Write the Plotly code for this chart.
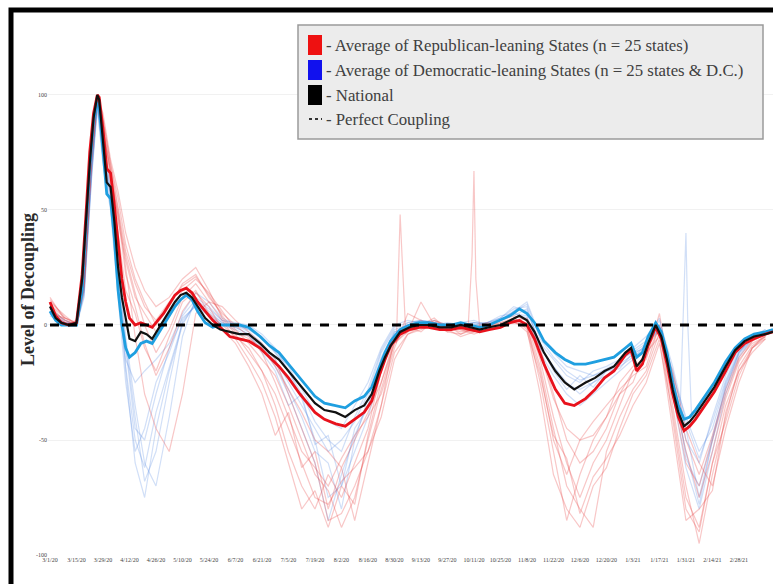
import pandas as pd
import plotly.graph_objects as go

# ---------------- data ----------------
START = "2020-03-01"

AVG_DAYS = [0,3,6,10,14,17,19,21,23,25,26,28,30,32,34,36,38,40,42,45,48,51,54,57,60,63,66,69,72,75,78,
            82,86,90,95,100,105,111,116,121,126,132,136,140,145,151,156,161,166,170,174,177,180,185,190,
            195,200,206,212,217,222,227,232,238,243,248,252,256,261,267,272,277,283,288,293,298,304,307,
            310,313,316,320,323,326,329,332,335,338,341,346,351,357,362,367,372,378,382]

NATIONAL = [8,3,1,0,1,20,45,70,90,100,98,80,62,60,45,25,12,3,-6,-7,-3,-4,-6,-2,2,6,10,13,14,12,8,
            3,0,-2,-3,-4,-4,-8,-12,-15,-20,-26,-30,-34,-37,-38,-40,-37,-35,-30,-20,-14,-9,-3,-1,
            0,0,-1,-1,0,-1,-2,-1,0,2,4,2,-3,-12,-20,-25,-28,-25,-23,-20,-18,-12,-10,
            -18,-15,-8,0,-5,-15,-28,-38,-44,-42,-39,-33,-27,-18,-11,-7,-5,-4,-3]

REP_AVG = [10,4,1,0,1,22,48,75,92,100,99,85,68,66,52,35,20,10,3,0,1,0,-1,2,5,9,13,15,16,14,10,
           6,2,-1,-5,-6,-7,-10,-14,-18,-23,-30,-34,-38,-41,-43,-44,-41,-38,-33,-22,-15,-9,-4,-2,
           -1,-1,-2,-2,-1,-2,-3,-2,-1,1,2,0,-6,-17,-28,-34,-35,-32,-28,-23,-20,-13,-11,
           -20,-17,-9,-1,-6,-17,-30,-40,-46,-44,-41,-35,-29,-20,-12,-8,-6,-4,-3]

DEM_AVG = [6,2,0,0,0,15,40,68,88,97,95,75,57,55,38,15,0,-10,-14,-12,-8,-7,-8,-4,0,4,8,11,13,11,6,
           1,-1,0,0,0,-1,-5,-9,-12,-17,-23,-27,-31,-34,-35,-36,-33,-31,-27,-18,-12,-7,-2,0,
           1,1,0,0,1,0,-1,0,2,4,7,5,1,-7,-12,-15,-17,-17,-16,-15,-14,-10,-8,
           -14,-12,-5,1,-3,-12,-25,-35,-41,-40,-37,-31,-25,-16,-10,-6,-4,-3,-2]

STATE_DAYS = [0,8,14,18,22,25,28,32,36,40,45,50,56,63,70,77,84,91,98,105,112,119,126,133,140,147,154,
              161,168,175,182,189,196,203,210,217,224,231,238,245,252,259,266,273,280,287,294,301,308,
              315,322,329,336,343,350,357,364,371,378]

REP_STATES = [
    [12,2,0,15,70,98,80,62,40,15,5,-10,-20,-5,10,15,5,0,-5,-10,-20,-35,-55,-70,-80,-65,-75,-60,-45,-20,
     -5,-2,0,3,-2,-5,-3,0,2,4,2,-15,-40,-60,-75,-60,-50,-35,-20,-15,5,-30,-60,-70,-50,-30,-15,-8,-5],
    [8,0,2,25,80,100,90,70,55,35,20,10,0,8,18,22,12,5,0,-5,-12,-25,-40,-55,-62,-70,-58,-48,-40,-30,
     -10,5,2,-1,0,-2,-1,0,1,3,0,-25,-55,-85,-65,-50,-40,-30,-25,-10,-2,-40,-80,-90,-60,-35,-20,-10,-6],
    [5,3,1,20,75,97,85,68,50,25,-5,-30,-45,-55,-30,5,10,8,2,-3,-8,-15,-30,-45,-60,-85,-82,-70,-55,-35,
     -5,-3,10,0,-3,-4,-2,-1,0,2,3,-10,-30,-50,-60,-55,-45,-30,-20,-12,-5,-20,-45,-60,-70,-45,-25,-10,-4],
    [10,4,0,18,72,99,88,66,45,28,12,5,-3,5,15,20,14,6,-2,-8,-15,-22,-35,-50,-65,-72,-88,-75,-50,-28,
     -8,-3,-1,0,-1,-3,-2,-1,1,2,1,-18,-45,-70,-80,-88,-55,-40,-28,-20,-3,-35,-70,-95,-65,-40,-18,-9,-5],
    [9,1,0,22,78,100,92,72,58,40,25,15,8,12,20,25,15,3,-4,-12,-20,-30,-45,-60,-75,-78,-68,-62,-55,-40,
     -15,-4,-2,1,-1,-2,-3,-1,0,1,-1,-20,-50,-65,-50,-42,-35,-28,-22,-18,0,-28,-55,-75,-55,-32,-16,-7,-4],
    [11,3,1,19,74,99,86,64,48,30,14,0,-12,-2,12,18,10,2,-6,-15,-25,-40,-60,-80,-72,-88,-70,-78,-48,-25,
     -6,-1,-3,2,0,-4,-1,1,0,3,-2,-30,-65,-80,-88,-70,-62,-45,-30,-22,-6,-45,-85,-80,-72,-38,-20,-12,-6],
    [7,2,0,21,76,100,89,70,52,32,18,8,2,10,17,21,13,4,-3,-6,-10,-18,-28,-38,-50,-55,-62,-50,-38,-25,
     -8,-2,0,2,-1,-2,-4,-2,0,1,0,-12,-32,-45,-50,-48,-40,-25,-18,-14,-1,-22,-50,-65,-48,-28,-14,-7,-4],
    [9,3,0,17,73,98,84,67,47,22,8,-8,-22,-10,6,14,8,-2,-8,-18,-30,-48,-38,-62,-55,-80,-62,-85,-60,-35,
     -12,-4,-1,1,-3,-1,-2,0,-1,2,-3,-22,-48,-58,-82,-66,-58,-48,-35,-25,-8,-38,-75,-88,-60,-42,-22,-10,-5],
]

DEM_STATES = [
    [6,1,0,12,65,96,75,55,20,-20,-60,-75,-45,-20,0,10,6,1,0,-3,-8,-15,-25,-35,-45,-55,-50,-42,-30,-12,
     -2,0,1,2,0,-1,0,1,3,8,6,-8,-15,-22,-25,-20,-18,-15,-12,-8,-2,-25,-50,-60,-40,-22,-10,-5,-3],
    [4,0,1,18,70,98,80,58,30,-5,-35,-60,-70,-40,-5,12,8,2,1,0,-4,-10,-20,-32,-50,-75,-70,-55,-40,-20,
     -4,1,2,1,0,1,2,0,2,6,10,-5,-12,-18,-20,-22,-20,-18,-14,-10,-1,-20,-45,-75,-50,-28,-12,-6,-3],
    [7,2,0,15,68,95,72,52,15,-15,-25,-20,-15,-8,5,14,10,3,0,-2,-6,-12,-18,-28,-38,-42,-45,-35,-25,-10,
     0,2,1,0,1,0,-1,1,4,5,3,-10,-18,-25,-30,-25,-20,-16,-10,-5,3,-22,-40,-55,-45,-25,-12,-5,-2],
    [5,1,0,14,66,97,78,60,25,-10,-45,-50,-30,-10,3,8,4,0,-2,-5,-10,-18,-30,-45,-60,-85,-65,-48,-35,-15,
     -3,-1,0,1,-1,0,1,0,2,5,4,-12,-22,-30,-35,-30,-25,-20,-15,-8,0,-30,-62,-80,-55,-30,-14,-6,-3],
    [5,1,1,16,67,96,76,56,22,-8,-40,-68,-55,-25,2,9,5,1,-1,-4,-9,-16,-28,-40,-55,-60,-80,-50,-32,-14,
     -3,0,1,1,0,0,1,0,3,7,8,-10,-18,-26,-28,-25,-22,-17,-13,-9,-1,-28,-55,-78,-50,-26,-12,-5,-3],
    [6,2,0,13,64,94,70,50,12,-25,-55,-45,-25,-12,4,11,7,2,0,-2,-5,-12,-20,-30,-42,-50,-55,-40,-28,-11,
     -1,1,2,1,0,-1,0,1,2,6,9,-6,-14,-20,-24,-22,-19,-16,-11,-7,2,-18,-42,-58,-42,-24,-11,-5,-2],
    [5,0,1,15,69,97,77,57,18,-18,-50,-62,-38,-18,1,9,4,0,-1,-4,-12,-20,-35,-30,-52,-48,-70,-45,-36,-16,
     -4,0,2,1,-1,0,1,1,3,4,7,-9,-20,-28,-22,-27,-20,-19,-12,-10,0,-22,-58,-70,-48,-27,-13,-6,-3],
]

# short, sharp excursions of single states
REP_SPIKE_DAYS = [[221,223,224,225,227], [183,185,186,188]]
REP_SPIKE_VALS = [[0,30,67,20,-1], [-8,48,30,-4]]
DEM_SPIKE_DAYS = [[333,335,336,337,339]]
DEM_SPIKE_VALS = [[-35,10,40,0,-40]]

TICK_LABELS = ["3/1/20","3/15/20","3/29/20","4/12/20","4/26/20","5/10/20","5/24/20","6/7/20",
               "6/21/20","7/5/20","7/19/20","8/2/20","8/16/20","8/30/20","9/13/20","9/27/20",
               "10/11/20","10/25/20","11/8/20","11/22/20","12/6/20","12/20/20","1/3/21","1/17/21",
               "1/31/21","2/14/21","2/28/21","3/14/21"]
Y_TICKS = [100, 50, 0, -50, -100]

LEGEND_LABELS = ["- Average of Republican-leaning States (n = 25 states)",
                 "- Average of Democratic-leaning States (n = 25 states & D.C.)",
                 "- National",
                 "- Perfect Coupling"]

# ---------------- build ----------------
start = pd.Timestamp(START)
def to_dates(days):
    return [start + pd.Timedelta(days=d) for d in days]

avg_x = to_dates(AVG_DAYS)
st_x = to_dates(STATE_DAYS)
tick_vals = [pd.to_datetime(t, format="%m/%d/%y") for t in TICK_LABELS]

RED_FAINT = "rgba(232,70,70,0.30)"
BLUE_FAINT = "rgba(90,140,225,0.28)"

fig = go.Figure()
for s in DEM_STATES:
    fig.add_trace(go.Scatter(x=st_x, y=s, mode="lines", line=dict(color=BLUE_FAINT, width=1.2), hoverinfo="skip"))
for d, v in zip(DEM_SPIKE_DAYS, DEM_SPIKE_VALS):
    fig.add_trace(go.Scatter(x=to_dates(d), y=v, mode="lines", line=dict(color=BLUE_FAINT, width=1.2), hoverinfo="skip"))
for s in REP_STATES:
    fig.add_trace(go.Scatter(x=st_x, y=s, mode="lines", line=dict(color=RED_FAINT, width=1.2), hoverinfo="skip"))
for d, v in zip(REP_SPIKE_DAYS, REP_SPIKE_VALS):
    fig.add_trace(go.Scatter(x=to_dates(d), y=v, mode="lines", line=dict(color=RED_FAINT, width=1.2), hoverinfo="skip"))

fig.add_trace(go.Scatter(x=avg_x, y=DEM_AVG, mode="lines", line=dict(color="#1f9fe0", width=2.8)))
fig.add_trace(go.Scatter(x=avg_x, y=REP_AVG, mode="lines", line=dict(color="#e8121c", width=2.8)))
fig.add_trace(go.Scatter(x=avg_x, y=NATIONAL, mode="lines", line=dict(color="#111111", width=2.2)))
fig.add_trace(go.Scatter(x=[avg_x[0], avg_x[-1]], y=[0, 0], mode="lines",
                         line=dict(color="black", width=3, dash="dash")))

W, H = 773, 584
ML, MR, MT, MB = 48, 0, 20, 29
PW, PH = W - ML - MR, H - MT - MB
def px(x):
    return (x - ML) / PW
def py(y):
    return (H - MB - y) / PH

shapes, annotations = [], []
shapes.append(dict(type="rect", xref="paper", yref="paper", x0=px(11), x1=px(800), y0=py(620), y1=py(10),
                   line=dict(color="black", width=5), fillcolor="rgba(0,0,0,0)", layer="above"))
shapes.append(dict(type="rect", xref="paper", yref="paper", x0=px(298), x1=px(763), y0=py(139), y1=py(25),
                   line=dict(color="#9a9a9a", width=1.5), fillcolor="#ececec", layer="above"))
sw_colors = ["#ee1111", "#1111ee", "#000000"]
rows = [45, 70, 95, 119]
for i, c in enumerate(sw_colors):
    shapes.append(dict(type="rect", xref="paper", yref="paper", x0=px(308), x1=px(322),
                       y0=py(rows[i] + 10), y1=py(rows[i] - 10), line=dict(width=0), fillcolor=c, layer="above"))
shapes.append(dict(type="line", xref="paper", yref="paper", x0=px(309), x1=px(322),
                   y0=py(rows[3]), y1=py(rows[3]), line=dict(color="#333", width=2, dash="dot"), layer="above"))
for i, t in enumerate(LEGEND_LABELS):
    annotations.append(dict(xref="paper", yref="paper", x=px(324), y=py(rows[i]), xanchor="left",
                            yanchor="middle", text=t, showarrow=False,
                            font=dict(family="Liberation Serif", size=16.8, color="#404040")))
annotations.append(dict(xref="paper", yref="paper", x=px(28), y=py(290), text="<b>Level of Decoupling</b>",
                        textangle=-90, showarrow=False, xanchor="center", yanchor="middle",
                        font=dict(family="Liberation Serif", size=18, color="#2a2a2a")))

fig.update_layout(
    width=W, height=H, margin=dict(l=ML, r=MR, t=MT, b=MB),
    paper_bgcolor="white", plot_bgcolor="white", showlegend=False,
    shapes=shapes, annotations=annotations,
    xaxis=dict(range=[start - pd.Timedelta(days=1.05), start + pd.Timedelta(days=382)],
               tickvals=tick_vals, ticktext=TICK_LABELS, showgrid=False, zeroline=False,
               tickfont=dict(family="Liberation Serif", size=6, color="#444"), ticks="", showline=False),
    yaxis=dict(range=[-100, 132.6], tickvals=Y_TICKS, ticktext=[str(v) for v in Y_TICKS],
               showgrid=True, gridcolor="#f1f1f1", zeroline=False, ticks="",
               tickfont=dict(family="Liberation Serif", size=6, color="#444")),
)

fig.write_html("out.html", config={"displayModeBar": False},
               post_script="document.body.style.margin='0';document.body.style.overflow='hidden';")
